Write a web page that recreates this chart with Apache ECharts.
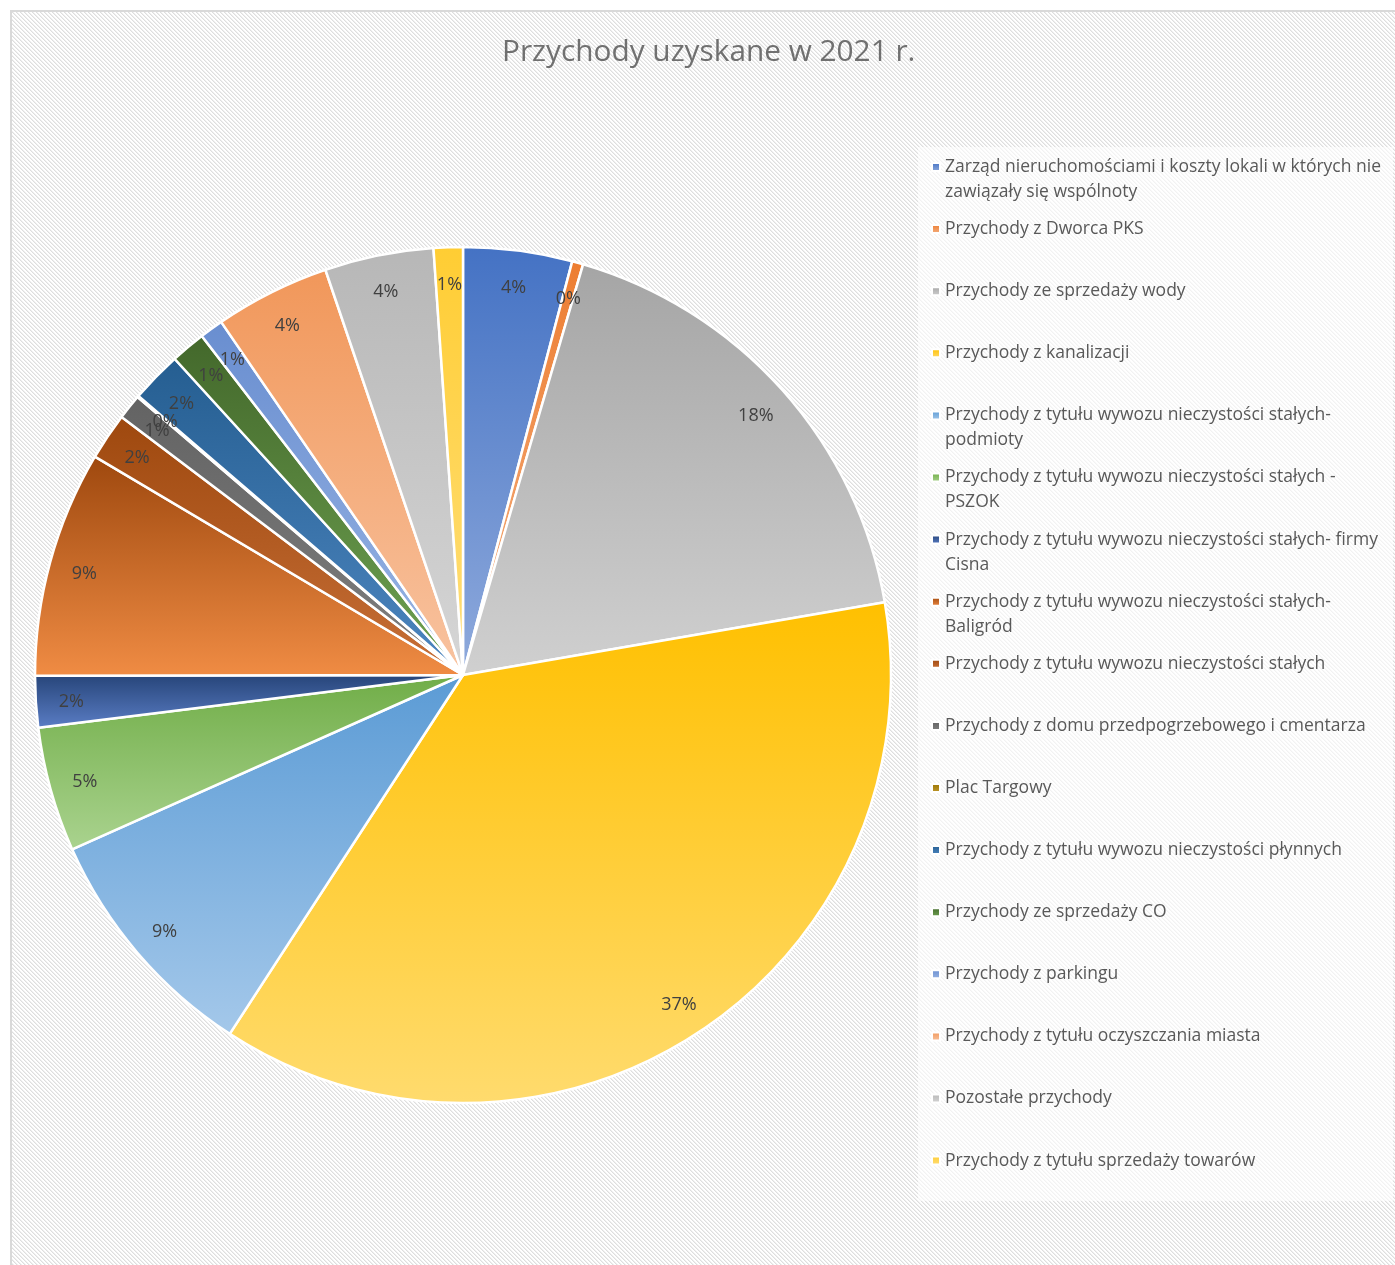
<!DOCTYPE html>
<html>
<head>
<meta charset="utf-8">
<script src="https://cdn.jsdelivr.net/npm/echarts@6/dist/echarts.min.js"></script>
<style>html,body{margin:0;padding:0;background:#fff}#c{width:1395px;height:1265px}</style>
</head>
<body>
<div id="c"></div>
<script>
const titleText = 'Przychody uzyskane w 2021 r.';
const categories = [
  'Zarząd nieruchomościami i koszty lokali w których nie zawiązały się wspólnoty',
  'Przychody z Dworca PKS',
  'Przychody ze sprzedaży wody',
  'Przychody z kanalizacji',
  'Przychody z tytułu wywozu nieczystości stałych- podmioty',
  'Przychody z tytułu wywozu nieczystości stałych - PSZOK',
  'Przychody z tytułu wywozu nieczystości stałych- firmy Cisna',
  'Przychody z tytułu wywozu nieczystości stałych- Baligród',
  'Przychody z tytułu wywozu nieczystości stałych',
  'Przychody z domu przedpogrzebowego i cmentarza',
  'Plac Targowy',
  'Przychody z tytułu wywozu nieczystości płynnych',
  'Przychody ze sprzedaży CO',
  'Przychody z parkingu',
  'Przychody z tytułu oczyszczania miasta',
  'Pozostałe przychody',
  'Przychody z tytułu sprzedaży towarów'
];
const legendLabels = [
  'Zarząd nieruchomościami i koszty lokali w których nie\nzawiązały się wspólnoty',
  'Przychody z Dworca PKS',
  'Przychody ze sprzedaży wody',
  'Przychody z kanalizacji',
  'Przychody z tytułu wywozu nieczystości stałych-\npodmioty',
  'Przychody z tytułu wywozu nieczystości stałych -\nPSZOK',
  'Przychody z tytułu wywozu nieczystości stałych- firmy\nCisna',
  'Przychody z tytułu wywozu nieczystości stałych-\nBaligród',
  'Przychody z tytułu wywozu nieczystości stałych',
  'Przychody z domu przedpogrzebowego i cmentarza',
  'Plac Targowy',
  'Przychody z tytułu wywozu nieczystości płynnych',
  'Przychody ze sprzedaży CO',
  'Przychody z parkingu',
  'Przychody z tytułu oczyszczania miasta',
  'Pozostałe przychody',
  'Przychody z tytułu sprzedaży towarów'
];
// shares in percent
const values = [4.11, 0.42, 17.75, 36.9, 9.15, 4.71, 1.94, 8.55, 1.78, 0.95, 0.05, 1.93, 1.32, 0.89, 4.35, 4.11, 1.10];
const topColors = ['#4472C4','#ED7D31','#A5A5A5','#FFC000','#5B9BD5','#70AD47','#264478','#9E480E','#9E480E','#636363','#997300','#255E91','#43682B','#698ED0','#F1975A','#B7B7B7','#FFCD33'];
const bottomColors = ['#8FAADC','#F4B183','#D0D0D0','#FFDB6E','#A4C8EA','#AAD38F','#5B7EC6','#F08C44','#C87038','#7F7F7F','#C09A30','#4D86C0','#6FA352','#99B5E4','#F8C3A0','#D6D6D6','#FFDE7A'];

const FONT = '"Open Sans", "Noto Sans", sans-serif';

// hatch pattern
const pc = document.createElement('canvas');
pc.width = 4; pc.height = 4;
const pctx = pc.getContext('2d');
pctx.fillStyle = '#ffffff'; pctx.fillRect(0,0,4,4);
for (let i = 0; i < 4; i++) {
  pctx.fillStyle = '#dedede'; pctx.fillRect(i, i, 1, 1);
  pctx.fillStyle = '#efefef'; pctx.fillRect((i+1)%4, i, 1, 1);
}

const chart = echarts.init(document.getElementById('c'), null, {renderer: 'canvas'});

const mainData = categories.map((n, i) => ({
  name: n,
  value: values[i],
  itemStyle: {
    color: new echarts.graphic.LinearGradient(0, 0, 0, 1, [
      {offset: 0, color: topColors[i]},
      {offset: 1, color: bottomColors[i]}
    ])
  }
}));
const labelData = categories.map((n, i) => ({name: n, value: values[i]}));

const R = 428;
chart.setOption({
  backgroundColor: '#ffffff',
  animation: false,
  graphic: [
    {type: 'rect', z: 0, silent: true, shape: {x: 11, y: 11, width: 1420, height: 1300},
     style: {fill: {image: pc, repeat: 'repeat'}, stroke: '#d9d9d9', lineWidth: 2}},
    {type: 'rect', z: 1, silent: true, shape: {x: 918, y: 147, width: 475, height: 1054},
     style: {fill: 'rgba(255,255,255,0.62)'}}
  ],
  title: {
    text: titleText,
    left: 497, top: 33,
    textStyle: {fontFamily: FONT, fontSize: 29.8, fontWeight: 'normal', color: '#707070'}
  },
  legend: {
    orient: 'vertical',
    left: 931, top: 129.5,
    padding: 0,
    itemGap: -12.9,
    itemWidth: 8, itemHeight: 8,
    icon: 'rect',
    data: categories,
    formatter: function (name) {
      const i = categories.indexOf(name);
      const lines = legendLabels[i].split('\n');
      return '\n' + lines[0] + '\n' + (lines[1] || '');
    },
    textStyle: {fontFamily: FONT, fontSize: 17.5, color: '#595959', lineHeight: 25}
  },
  series: [
    {
      type: 'pie',
      center: [463, 675],
      radius: [0, R],
      startAngle: 90,
      clockwise: true,
      avoidLabelOverlap: false,
      label: {show: false},
      labelLine: {show: false},
      emphasis: {disabled: true},
      itemStyle: {borderColor: '#ffffff', borderWidth: 2.5},
      data: mainData
    },
    {
      type: 'pie',
      center: [463, 675],
      radius: [R * 0.82, R],
      startAngle: 90,
      clockwise: true,
      silent: true,
      legendHoverLink: false,
      avoidLabelOverlap: false,
      labelLayout: {hideOverlap: false},
      itemStyle: {color: 'rgba(0,0,0,0)', borderWidth: 0},
      emphasis: {disabled: true},
      labelLine: {show: false},
      label: {
        show: true, position: 'inside',
        fontFamily: FONT, fontSize: 18, color: '#404040',
        offset: [0, 2],
        formatter: p => Math.round(p.percent) + '%'
      },
      data: labelData
    }
  ]
});
</script>
</body>
</html>
